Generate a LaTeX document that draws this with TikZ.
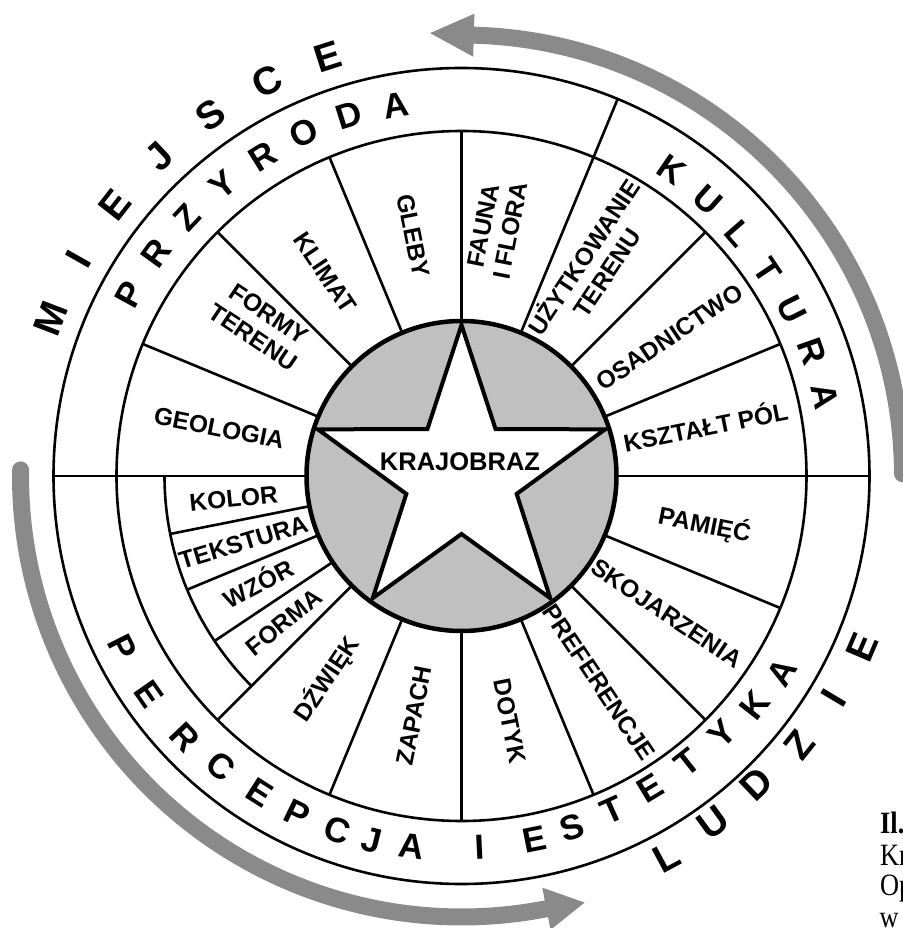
\documentclass[tikz,border=0pt]{standalone}
\usepackage{fontspec}
\setmainfont{Liberation Sans}
\newfontfamily\capfont{Liberation Serif}[FakeStretch=0.85]
\definecolor{ringgrey}{RGB}{192,192,192}
\definecolor{arrowgrey}{RGB}{138,138,138}
\begin{document}
\begin{tikzpicture}[x=1pt,y=1pt,
  seg/.style={line width=2.6pt},
  lab/.style={font=\bfseries\fontsize{24.5}{28}\selectfont, align=center, inner sep=0pt, text height=17.5pt, text depth=0pt},
  ringtxt/.style={font=\bfseries\fontsize{35}{35}\selectfont, inner sep=0pt},
  bigtxt/.style={font=\bfseries\fontsize{39}{39}\selectfont, inner sep=0pt},
  flow/.style={draw=arrowgrey, line width=17pt},
  captxt/.style={font=\capfont\fontsize{31}{31}\selectfont, inner sep=0pt, anchor=base west}
]
\useasboundingbox (-461.5,-452) rectangle (440.5,476);

% grey flow arrows
\fill[arrowgrey] (0.3:441) circle (8.5);
\draw[flow] (0.3:441) arc (0.3:88.8:441);
\fill[arrowgrey] (88.4:419.5) -- (94.06:444) -- (88.4:462.5) -- cycle;
\fill[arrowgrey] (179.2:441) circle (8.5);
\draw[flow] (179.2:441) arc (179.2:281.3:441);
\fill[arrowgrey] (281.1:419.5) -- (286.1:444) -- (281.1:462.5) -- cycle;

% rings
\draw[seg] (0,0) circle (408);
\draw[seg] (0,0) circle (345);
\foreach \a in {22.5,45,90,112.5,135,157.5,-22.5,-45,-67.5,-90,-112.5,-135}
  \draw[seg] (\a:150) -- (\a:345);
\foreach \a in {0,67.5,180}
  \draw[seg] (\a:150) -- (\a:408);
\foreach \a in {191.25,202.5,213.75}
  \draw[seg] (\a:150) -- (\a:297);
\draw[seg] (180:297) arc (180:225:297);

% centre
\fill[ringgrey] (0,0) circle (155);
\filldraw[fill=white, line width=4pt, line join=miter]
  (90:151) -- (54:58) -- (18:151) -- (-18:58) -- (-54:151) -- (-90:58)
  -- (-126:151) -- (-162:58) -- (162:151) -- (126:58) -- cycle;
\draw[line width=4.5pt] (0,0) circle (155);
\node[lab, font=\bfseries\fontsize{25.5}{26}\selectfont] (core) at (-1.5,14) {KRAJOBRAZ};

% sector labels
\node[lab, rotate=-11.25] (geo) at (168.75:247) {GEOLOGIA};
\node[lab, rotate=-33.75] (form) at (146.25:250) {FORMY\\TERENU};
\node[lab, rotate=-56.25] (klim) at (123.75:245) {KLIMAT};
\node[lab, rotate=-78.75] (gleb) at (101.25:245) {GLEBY};
\node[lab, rotate=78.75] (faun) at (78.75:250) {FAUNA\\I FLORA};
\node[lab, rotate=56.25] (uzyt) at (54.3:250) {UŻYTKOWANIE\\TERENU};
\node[lab, rotate=33.75] (osad) at (33.75:250) {OSADNICTWO};
\node[lab, rotate=11.25] (kszt) at (11.25:249) {KSZTAŁT PÓL};
\node[lab, rotate=-11.25] (pami) at (-11.25:248) {PAMIĘĆ};
\node[lab, rotate=-33.75] (skoj) at (-33.75:247) {SKOJARZENIA};
\node[lab, rotate=-56.25] (pref) at (-56.25:248) {PREFERENCJE};
\node[lab, rotate=-78.75] (doty) at (-78.75:250) {DOTYK};
\node[lab, rotate=78.75] (zapa) at (-101.25:244) {ZAPACH};
\node[lab, rotate=56.25] (dzwi) at (-123.75:244) {DŹWIĘK};
\node[lab, rotate=5.625] (kolo) at (185.625:229) {KOLOR};
\node[lab, rotate=16.875] (teks) at (196.875:228) {TEKSTURA};
\node[lab, rotate=28.125] (wzor) at (208.125:230) {WZÓR};
\node[lab, rotate=39.375] (fma) at (219.375:230) {FORMA};

% ring words
\foreach \ch/\ang/\r [count=\i] in {P/151.3/379,R/143.97/378,Z/136.64/377,Y/129.31/377,R/121.98/376,O/114.65/377,D/107.32/378,A/99.99/376}
  \node[ringtxt, rotate=\ang-90] (prz\i) at (\ang:\r) {\ch};
\foreach \ch/\ang/\r [count=\i] in {K/55.5/372,U/48.3/370,L/41.1/368,T/33.9/369,U/26.7/370,R/19.5/372,A/12.3/372}
  \node[ringtxt, rotate=\ang-90] (kul\i) at (\ang:\r) {\ch};
\foreach \ch/\ang/\r [count=\i] in {P/206.8/380,E/214.9/381,R/223.4/380,C/230.3/377,E/237.5/376,P/244.1/375,C/250.7/375,J/256.1/375,A/262.3/374,I/272.8/372,E/281.3/371,S/287.5/369,T/294.3/367,E/301.1/365,T/308.3/365,Y/315.3/367,K/322.0/372,A/328.5/376}
  \node[ringtxt, rotate=\ang+90] (per\i) at (\ang:\r) {\ch};

% outer words
\foreach \ch/\ang [count=\i] in {M/159,I/150.45,E/141.9,J/133.35,S/124.8,C/116.25,E/107.7}
  \node[bigtxt, rotate=\ang-90] (mie\i) at (\ang:440) {\ch};
\foreach \ch/\ang/\r [count=\i] in {L/-61.7/433,U/-53.98/428,D/-46.26/426,Z/-38.54/432,I/-30.82/434,E/-23.1/436}
  \node[bigtxt, rotate=\ang+90] (lud\i) at (\ang:\r) {\ch};

% cropped caption
\begin{scope}
\clip (-461.5,-452) rectangle (440.5,476);
\node[captxt] (cap1) at (418.5,-357) {\textbf{Il.}};
\node[captxt] (cap2) at (418.5,-389) {Kr};
\node[captxt] (cap3) at (418.5,-419) {Op};
\node[captxt] (cap4) at (418,-451.5) {w};
\end{scope}
\end{tikzpicture}
\end{document}
